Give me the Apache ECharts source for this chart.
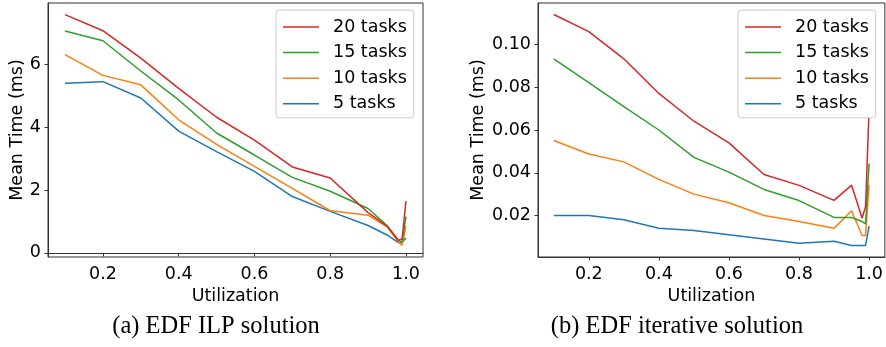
<!DOCTYPE html>
<html>
<head>
<meta charset="utf-8">
<script src="https://cdn.jsdelivr.net/npm/echarts@6/dist/echarts.min.js"></script>
<style>
  html, body { margin: 0; padding: 0; background: #fff; }
  #chart { width: 886px; height: 347px; }
</style>
</head>
<body>
<div id="chart"></div>
<script>
const utilization = [0.1, 0.2, 0.3, 0.4, 0.5, 0.6, 0.7, 0.8, 0.9, 0.95, 0.98, 0.99, 1.0]
const seriesNames = ['5 tasks', '10 tasks', '15 tasks', '20 tasks']
const colors = ['#1f77b4', '#ff7f0e', '#2ca02c', '#d62728']

// (a) EDF ILP solution, ms
const ilp5 = [5.39, 5.44, 4.92, 3.87, 3.22, 2.59, 1.79, 1.32, 0.87, 0.57, 0.33, 0.35, 0.47]
const ilp10 = [6.30, 5.64, 5.34, 4.23, 3.45, 2.75, 2.05, 1.34, 1.20, 0.83, 0.35, 0.24, 0.85]
const ilp15 = [7.05, 6.74, 5.78, 4.86, 3.81, 3.11, 2.40, 1.96, 1.41, 0.87, 0.40, 0.35, 1.15]
const ilp20 = [7.57, 7.06, 6.19, 5.23, 4.31, 3.58, 2.73, 2.38, 1.28, 0.85, 0.40, 0.45, 1.65]

// (b) EDF iterative solution, ms
const it5 = [0.020, 0.020, 0.018, 0.014, 0.013, 0.011, 0.009, 0.007, 0.008, 0.006, 0.006, 0.006, 0.015]
const it10 = [0.0551, 0.0488, 0.0451, 0.0369, 0.0300, 0.0260, 0.0200, 0.0172, 0.0140, 0.0222, 0.0107, 0.0107, 0.0342]
const it15 = [0.0933, 0.0822, 0.0709, 0.0600, 0.0472, 0.0403, 0.0322, 0.0270, 0.0191, 0.0191, 0.0172, 0.0161, 0.0443]
const it20 = [0.114, 0.106, 0.0933, 0.0771, 0.0641, 0.0540, 0.0392, 0.0341, 0.0271, 0.0342, 0.0188, 0.0242, 0.0695]

const xTicks = [0.2, 0.4, 0.6, 0.8, 1.0]
const yTicksA = [0, 2, 4, 6]
const yTicksB = [0.02, 0.04, 0.06, 0.08, 0.10]

const font = 'DejaVu Sans'
const fs = 17.5
const axisColor = '#333'

function xAxis(gridIndex) {
  return {
    type: 'value', gridIndex, min: 0.055, max: 1.045,
    name: 'Utilization', nameLocation: 'middle', nameGap: 29,
    nameTextStyle: { fontFamily: font, fontSize: fs, color: '#000' },
    axisLine: { show: true, lineStyle: { color: axisColor, width: 1 } },
    axisTick: { show: true, length: 3.5, customValues: xTicks, lineStyle: { color: axisColor } },
    axisLabel: { customValues: xTicks, margin: 8, fontFamily: font, fontSize: fs, color: '#000',
      formatter: v => v.toFixed(1) },
    splitLine: { show: false }
  }
}

function yAxis(gridIndex, min, max, ticks, digits, gap) {
  return {
    type: 'value', gridIndex, min, max,
    name: 'Mean Time (ms)', nameLocation: 'middle', nameGap: gap,
    nameTextStyle: { fontFamily: font, fontSize: fs, color: '#000' },
    axisLine: { show: true, lineStyle: { color: axisColor, width: 1 } },
    axisTick: { show: true, length: 3.5, customValues: ticks, lineStyle: { color: axisColor } },
    axisLabel: { customValues: ticks, margin: 7, fontFamily: font, fontSize: fs, color: '#000',
      formatter: v => v.toFixed(digits) },
    splitLine: { show: false }
  }
}

function lines(sets, idx) {
  return sets.map((vals, i) => ({
    name: seriesNames[i], type: 'line', xAxisIndex: idx, yAxisIndex: idx,
    data: utilization.map((u, k) => [u, vals[k]]),
    symbol: 'none', silent: true, animation: false,
    lineStyle: { color: colors[i], width: 1.5 }, itemStyle: { color: colors[i] }
  }))
}

function legend(left) {
  return {
    orient: 'vertical', left, top: 10,
    data: seriesNames.slice().reverse(),
    icon: 'rect', itemWidth: 36, itemHeight: 1.5, itemGap: 5.6,
    padding: [7, 7, 4, 7],
    backgroundColor: '#fff', borderColor: '#ccc', borderWidth: 1, borderRadius: 3,
    textStyle: { fontFamily: font, fontSize: fs, color: '#000', lineHeight: 20, padding: [0, 0, 0, 9] },
    selectedMode: false
  }
}

const chart = echarts.init(document.getElementById('chart'))
chart.setOption({
  animation: false,
  grid: [
    { left: 48, right: 463, top: 3, bottom: 90, show: true, borderColor: axisColor, borderWidth: 1, backgroundColor: 'transparent' },
    { left: 538, right: 1, top: 3, bottom: 90, show: true, borderColor: axisColor, borderWidth: 1, backgroundColor: 'transparent' }
  ],
  xAxis: [xAxis(0), xAxis(1)],
  yAxis: [yAxis(0, -0.13, 7.94, yTicksA, 0, 21), yAxis(1, 0.0006, 0.1194, yTicksB, 2, 51)],
  legend: [legend(276), legend(738)],
  series: [...lines([ilp5, ilp10, ilp15, ilp20], 0), ...lines([it5, it10, it15, it20], 1)],
  graphic: [
    { type: 'text', x: 216, y: 327, style: { text: '(a) EDF ILP solution', font: '24.5px "Liberation Serif"', fill: '#000', align: 'center', verticalAlign: 'middle' } },
    { type: 'text', x: 677, y: 327, style: { text: '(b) EDF iterative solution', font: '24.5px "Liberation Serif"', fill: '#000', align: 'center', verticalAlign: 'middle' } }
  ]
})
</script>
</body>
</html>
